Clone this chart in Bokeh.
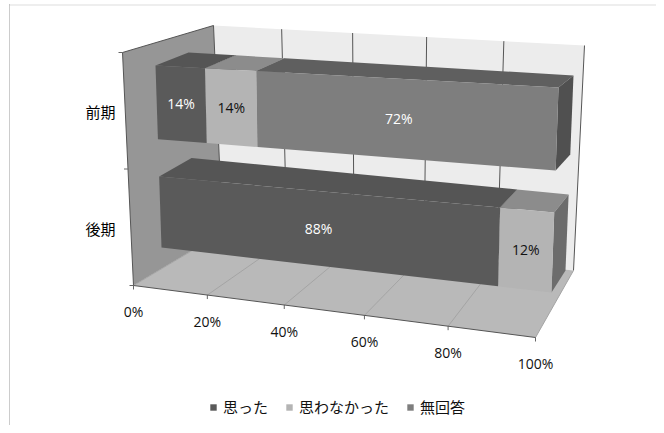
from bokeh.plotting import figure
from bokeh.embed import file_html
from bokeh.resources import INLINE
from bokeh.core.properties import value
from bokeh.models import Legend, LegendItem

# ---- data -------------------------------------------------------------
categories = ["前期", "後期"]
series_names = ["思った", "思わなかった", "無回答"]
s_yes = [14, 88]
s_no = [14, 12]
s_none = [72, 0]
axis_ticks = [0, 20, 40, 60, 80, 100]
tick_labels = ["0%", "20%", "40%", "60%", "80%", "100%"]

# ---- styles ------------------------------------------------------------
C_FRONT = ["#5a5a5a", "#b4b4b4", "#7e7e7e"]
C_TOP = ["#555555", "#8c8c8c", "#5f5f5f"]
C_SIDE = ["#444444", "#6c6c6c", "#505050"]
LABEL_C = ["white", "#111111", "white"]
WALL, FLOOR, BACK = "#969696", "#b9b9b9", "#ececec"
CJK = "Noto Sans CJK JP"
LAT = "Open Sans"

# projection of the pseudo-3D box: (u value 0-1, d depth 0-1, w height 0-1) -> page px
BOX = {"fbl": (133, 285), "fbr": (535, 337), "bbl": (222, 232), "bbr": (573, 270),
       "ftl": (122, 52), "ftr": (524, 100), "btl": (213, 25), "btr": (584, 45)}
BAR = {"fbl": (161, 247), "fbr": (551, 292), "bbl": (193, 225), "bbr": (565, 270),
       "ftl": (155, 65), "ftr": (558, 87), "btl": (188, 52), "btr": (573, 75)}
BAND = {"前期": (0.595, 1.0), "後期": (0.0, 0.39)}


def persp(u, a):
    return a * u / (1 + (a - 1) * u)


def mix(p, q, t):
    return (p[0] + (q[0] - p[0]) * t, p[1] + (q[1] - p[1]) * t)


def proj(M, u, d, w, a):
    t = persp(u, a)
    fb = mix(M["fbl"], M["fbr"], t)
    bb = mix(M["bbl"], M["bbr"], t)
    ft = mix(M["ftl"], M["ftr"], t)
    bt = mix(M["btl"], M["btr"], t)
    return mix(mix(fb, bb, d), mix(ft, bt, d), w)


def box(u, d, w):
    return proj(BOX, u, d, w, 0.9)


def bar(u, d, w):
    return proj(BAR, u, d, w, 0.86)


def poly(p, pts, **kw):
    return p.patch([q[0] for q in pts], [q[1] for q in pts], **kw)


p = figure(width=656, height=425, x_range=(0, 656), y_range=(425, 0),
           output_backend="svg", toolbar_location=None, min_border=0)
p.axis.visible = False
p.grid.visible = False
p.outline_line_color = None
p.background_fill_color = "white"

# outer frame
p.line([9, 9], [4, 425], line_color="#999999", line_width=1, line_dash="1 1")
p.line([9, 656], [4.5, 4.5], line_color="#bbbbbb", line_width=1, line_dash="1 1")

# walls and floor
poly(p, [box(0, 1, 0), box(1, 1, 0), box(1, 1, 1), box(0, 1, 1)], fill_color=BACK, line_color=None)
poly(p, [box(0, 0, 0), box(0, 1, 0), box(0, 1, 1), box(0, 0, 1)], fill_color=WALL, line_color=None)
poly(p, [box(0, 0, 0), box(1, 0, 0), box(1, 1, 0), box(0, 1, 0)], fill_color=FLOOR, line_color=None)

for t in axis_ticks:
    u = t / 100
    a, b = box(u, 1, 0), box(u, 1, 1)
    p.line([a[0], b[0]], [a[1], b[1]], line_color="#555555", line_width=1)
    f = box(u, 0, 0)
    p.line([f[0], a[0]], [f[1], a[1]], line_color="#a4a4a4", line_width=1)
    p.line([f[0], f[0]], [f[1], f[1] + 4], line_color="#666666", line_width=1)

# box edges
for q0, q1 in [(box(0, 0, 0), box(1, 0, 0)), (box(0, 0, 0), box(0, 0, 1)), (box(0, 0, 1), box(0, 1, 1))]:
    p.line([q0[0], q1[0]], [q0[1], q1[1]], line_color="#555555", line_width=1)
for w in (0, 0.5, 1):
    a = box(0, 0, w)
    p.line([a[0] - 4, a[0]], [a[1], a[1]], line_color="#666666", line_width=1)

# stacked 3-D bars
series = [s_yes, s_no, s_none]
legend_r = [None, None, None]
lab_x, lab_y, lab_t, lab_c = [], [], [], []
for ci, cat in enumerate(categories):
    w0, w1 = BAND[cat]
    left = 0
    for si, vals in enumerate(series):
        v = vals[ci]
        if v == 0:
            continue
        u0, u1 = left / 100, (left + v) / 100
        poly(p, [bar(u0, 0, w1), bar(u1, 0, w1), bar(u1, 1, w1), bar(u0, 1, w1)],
             fill_color=C_TOP[si], line_color=None)
        poly(p, [bar(u1, 0, w0), bar(u1, 1, w0), bar(u1, 1, w1), bar(u1, 0, w1)],
             fill_color=C_SIDE[si], line_color=None)
        r = poly(p, [bar(u0, 0, w0), bar(u1, 0, w0), bar(u1, 0, w1), bar(u0, 0, w1)],
                 fill_color=C_FRONT[si], line_color=None)
        if legend_r[si] is None:
            legend_r[si] = r
        c = bar((u0 + u1) / 2, 0, (w0 + w1) / 2)
        lab_x.append(c[0]); lab_y.append(c[1]); lab_t.append(f"{v}%"); lab_c.append(LABEL_C[si])
        left += v

p.text(lab_x, lab_y, text=lab_t, text_color=lab_c, text_font=value(LAT), text_font_size="14px",
       text_align="center", text_baseline="middle")

# value-axis labels
tx = [box(t / 100, 0, 0)[0] for t in axis_ticks]
ty = [box(t / 100, 0, 0)[1] + 26 for t in axis_ticks]
p.text(tx, ty, text=tick_labels, text_color="#111111", text_font=value(LAT), text_font_size="14px",
       text_align="center", text_baseline="middle")

# category labels
cy = [box(0, 0, 0.745)[1] + 0, box(0, 0, 0.245)[1]]
p.text([100, 100], cy, text=categories, text_color="#000000", text_font=value(CJK), text_font_size="15px",
       text_align="center", text_baseline="middle")

legend = Legend(items=[LegendItem(label=n, renderers=[r]) for n, r in zip(series_names, legend_r)],
                orientation="horizontal", location=(209, 8), background_fill_alpha=0,
                border_line_color=None, padding=0, margin=0, spacing=17, glyph_width=8, glyph_height=8,
                label_standoff=6, label_text_font=CJK, label_text_font_size="15px", label_text_color="#111111")
p.add_layout(legend, "center")

open("out.html", "w").write(file_html(p, INLINE))
